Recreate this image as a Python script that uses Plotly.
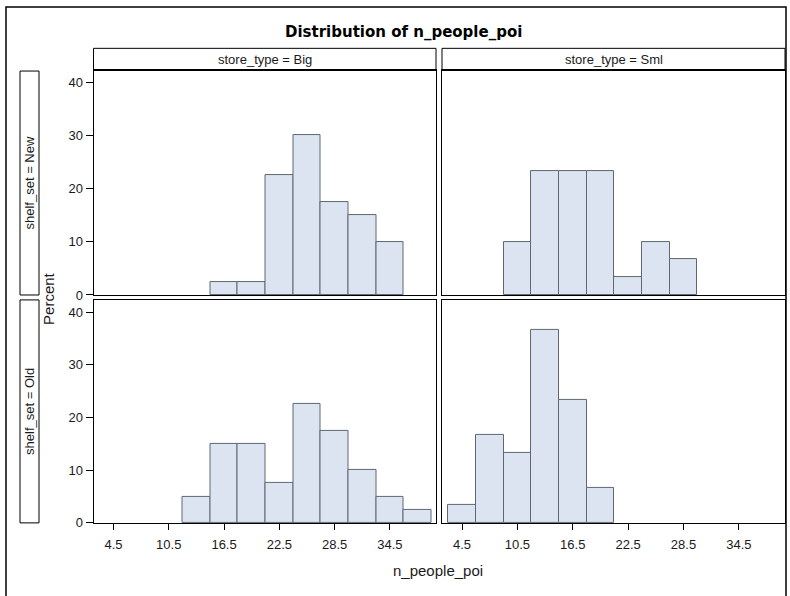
import plotly.graph_objects as go

# ---- data (percent of observations per bin, bin width 3) ----
bin_centers = [4.5, 7.5, 10.5, 13.5, 16.5, 19.5, 22.5, 25.5, 28.5, 31.5, 34.5, 37.5]
big_new = [0, 0, 0, 0, 2.5, 2.5, 22.5, 30.0, 17.5, 15.0, 10.0, 0]
sml_new = [0, 0, 10.0, 23.33, 23.33, 23.33, 3.33, 10.0, 6.67, 0, 0, 0]
big_old = [0, 0, 0, 5.0, 15.0, 15.0, 7.5, 22.5, 17.5, 10.0, 5.0, 2.5]
sml_old = [3.33, 16.67, 13.33, 36.67, 23.33, 6.67, 0, 0, 0, 0, 0, 0]
x_ticks = [4.5, 10.5, 16.5, 22.5, 28.5, 34.5]
y_ticks = [0, 10, 20, 30, 40]
col_labels = ["store_type = Big", "store_type = Sml"]
row_labels = ["shelf_set = New", "shelf_set = Old"]

W, H = 790, 596
def px(x):
    return x / W
def py(y):
    return 1 - y / H

BAR_FILL = "#DBE4F0"
BAR_LINE = "#5F6872"
FONT = "Liberation Sans, Arial, sans-serif"
TXT = "#1a1a1a"

fig = go.Figure()
panels = [(big_new, "x", "y"), (sml_new, "x2", "y2"), (big_old, "x3", "y3"), (sml_old, "x4", "y4")]
for vals, xa, ya in panels:
    xs = [c for c, v in zip(bin_centers, vals) if v > 0]
    ys = [v for v in vals if v > 0]
    fig.add_trace(go.Bar(x=xs, y=ys, width=3, xaxis=xa, yaxis=ya,
                         marker=dict(color=BAR_FILL, line=dict(color=BAR_LINE, width=1)),
                         showlegend=False, hoverinfo="x+y"))

xl = [px(93.5), px(436)]
xr = [px(442), px(785)]
yt = [py(299), py(71)]
yb = [py(530), py(304)]
XR = [2.33, 39.5]
YR = [0, 42.3]

def xax(domain, anchor, labels):
    return dict(domain=domain, anchor=anchor, range=XR, showgrid=False, zeroline=False,
                showline=True, mirror=True, linecolor="black", linewidth=1,
                tickvals=x_ticks, ticktext=[str(t) for t in x_ticks],
                ticks="outside" if labels else "", ticklen=6, tickcolor="black",
                ticklabelstandoff=4,
                showticklabels=labels, tickfont=dict(family=FONT, size=13, color=TXT))

def yax(domain, anchor, labels):
    return dict(domain=domain, anchor=anchor, range=YR, showgrid=False, zeroline=False,
                showline=True, mirror=True, linecolor="black", linewidth=1,
                tickvals=y_ticks, ticks="outside" if labels else "", ticklen=7,
                tickcolor="black", showticklabels=labels,
                tickfont=dict(family=FONT, size=13, color=TXT))

shapes = []
annotations = []
# outer border
shapes.append(dict(type="rect", xref="paper", yref="paper", x0=px(6), x1=px(786),
                   y0=py(620), y1=py(7), line=dict(color="black", width=1.5)))
# column header strips
for (x0, x1), lab in zip([(93.5, 436), (442, 785)], col_labels):
    shapes.append(dict(type="rect", xref="paper", yref="paper", x0=px(x0), x1=px(x1),
                       y0=py(71), y1=py(49), line=dict(color="black", width=1), fillcolor="white"))
    shapes.append(dict(type="line", xref="paper", yref="paper", x0=px(x0), x1=px(x1),
                       y0=py(71), y1=py(71), line=dict(color="black", width=2)))
    annotations.append(dict(text=lab, xref="paper", yref="paper", x=px((x0 + x1) / 2), y=py(60),
                            showarrow=False, xanchor="center", yanchor="middle",
                            font=dict(family=FONT, size=13, color=TXT)))
# row header strips
for (y0, y1), lab in zip([(72, 299), (304, 530)], row_labels):
    shapes.append(dict(type="rect", xref="paper", yref="paper", x0=px(20), x1=px(39),
                       y0=py(y1), y1=py(y0), line=dict(color="black", width=1), fillcolor="white"))
    annotations.append(dict(text=lab, xref="paper", yref="paper", x=px(29.5), y=py((y0 + y1) / 2),
                            showarrow=False, textangle=-90, xanchor="center", yanchor="middle",
                            font=dict(family=FONT, size=13, color=TXT)))
# title and axis titles
annotations.append(dict(text="<b>Distribution of n_people_poi</b>", xref="paper", yref="paper",
                        x=px(404), y=py(32), showarrow=False, xanchor="center", yanchor="middle",
                        font=dict(family="DejaVu Sans, Verdana, sans-serif", size=15, color="black")))
annotations.append(dict(text="Percent", xref="paper", yref="paper", x=px(49), y=py(303),
                        showarrow=False, textangle=-90, xanchor="center", yanchor="middle",
                        font=dict(family=FONT, size=15, color=TXT)))
annotations.append(dict(text="n_people_poi", xref="paper", yref="paper", x=px(438), y=py(578),
                        showarrow=False, xanchor="center", yanchor="middle",
                        font=dict(family=FONT, size=15, color=TXT)))

fig.update_layout(
    width=W, height=H, margin=dict(l=0, r=0, t=0, b=0),
    paper_bgcolor="white", plot_bgcolor="white", bargap=0,
    xaxis=xax(xl, "y", False), yaxis=yax(yt, "x", True),
    xaxis2=xax(xr, "y2", False), yaxis2=yax(yt, "x2", False),
    xaxis3=xax(xl, "y3", True), yaxis3=yax(yb, "x3", True),
    xaxis4=xax(xr, "y4", True), yaxis4=yax(yb, "x4", False),
    shapes=shapes, annotations=annotations,
)

fig.write_html("out.html", config={"displayModeBar": False},
               post_script="document.body.style.margin='0px';document.body.style.overflow='hidden';")
